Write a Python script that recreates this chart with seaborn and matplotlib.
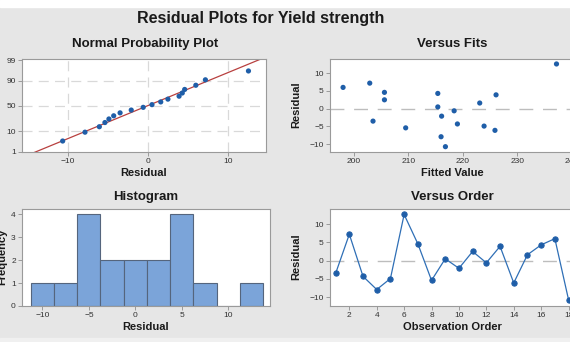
import numpy as np
import pandas as pd
import matplotlib
matplotlib.use("Agg")
import matplotlib.pyplot as plt
import seaborn as sns
from statistics import NormalDist

# ---- data ----
observation = list(range(1, 19))
residuals = [-3.5, 7.2, -4.3, -7.9, -4.9, 12.6, 4.6, -5.4, 0.5,
             -2.1, 2.5, -0.6, 3.9, -6.1, 1.6, 4.3, 6.0, -10.7]
fitted = [203.5, 202.9, 219.0, 216.0, 223.9, 237.2, 205.6, 209.5, 215.4,
          216.1, 205.6, 218.4, 226.1, 225.9, 223.1, 215.4, 198.0, 216.8]
prob_ticks = [1, 10, 50, 90, 99]
hist_edges = [-11.25, -8.75, -6.25, -3.75, -1.25, 1.25, 3.75, 6.25, 8.75, 11.25, 13.75]

df = pd.DataFrame({"obs": observation, "resid": residuals, "fit": fitted})

sns.set_theme(style="white")
plt.rcParams["font.family"] = ["Liberation Sans", "DejaVu Sans"]

BG = "#e6e6e6"
PT = "#1f5ea8"
SPINE = "#9a9a9a"
W, H = 570, 342
fig = plt.figure(figsize=(W / 100, H / 100), dpi=100, facecolor=BG)

# white strip at top
fig.patches.append(plt.Rectangle((0, 1 - 7 / H), 1, 7 / H, transform=fig.transFigure,
                                 color="white", zorder=0))
fig.patches.append(plt.Rectangle((0, 0), 1, 4 / H, transform=fig.transFigure,
                                 color="#f0f0f0", zorder=0))


def add_ax(l, r, t, b):
    ax = fig.add_axes([l / W, (H - b) / H, (r - l) / W, (b - t) / H])
    ax.set_facecolor("white")
    for s in ax.spines.values():
        s.set_color(SPINE)
        s.set_linewidth(0.8)
    ax.tick_params(axis="both", which="both", direction="out", length=3, width=0.7,
                   color=SPINE, labelsize=6, labelcolor="#333333", pad=1.5,
                   bottom=True, left=True)
    ax.set_xlabel("")
    ax.set_ylabel("")
    return ax


def ftext(x, y, s, size, rot=0):
    fig.text(x / W, (H - y) / H, s, ha="center", va="center", fontsize=size,
             fontweight="bold", rotation=rot, color="#1a1a1a")


ftext(261, 19, "Residual Plots for Yield strength", 11.5)

# ---- Normal probability plot ----
ax1 = add_ax(22, 266, 59, 152)
n = len(residuals)
sorted_r = np.sort(residuals)
nd = NormalDist()
zpos = [nd.inv_cdf((i - 0.3) / (n + 0.4)) for i in range(1, n + 1)]
mu, sd = np.mean(residuals), np.std(residuals, ddof=1)
ax1.set_xlim(-15.8, 14.8)
ax1.set_ylim(-2.33, 2.38)
for xv in [-10, 0, 10]:
    ax1.axvline(xv, color="#d9d9d9", lw=0.9, ls=(0, (8, 5)), zorder=0)
for p in [10, 50, 90]:
    ax1.axhline(nd.inv_cdf(p / 100), color="#d9d9d9", lw=0.9, ls=(0, (8, 5)), zorder=0)
xl = np.array([-16, 16])
ax1.plot(xl, (xl - mu) / sd, color="#b8403f", lw=0.9, zorder=2)
sns.scatterplot(x=sorted_r, y=zpos, ax=ax1, color=PT, s=14, edgecolor="none", zorder=3)
ax1.set_yticks([nd.inv_cdf(p / 100) for p in prob_ticks])
ax1.set_yticklabels([str(p) for p in prob_ticks])
ax1.set_xticks([-10, 0, 10])
ftext(145, 44, "Normal Probability Plot", 9.5)
ftext(144, 173, "Residual", 8)

# ---- Versus fits ----
ax2 = add_ax(330, 575, 59, 152)
ax2.set_xlim(195.6, 240.6)
ax2.set_ylim(-12.2, 14.0)
ax2.axhline(0, color="#bdbdbd", lw=1.0, ls=(0, (10, 7)), zorder=1)
sns.scatterplot(data=df, x="fit", y="resid", ax=ax2, color=PT, s=14, edgecolor="none", zorder=3)
ax2.set_xlabel("")
ax2.set_ylabel("")
ax2.set_xticks([200, 210, 220, 230, 240])
ax2.set_yticks([-10, -5, 0, 5, 10])
ftext(452, 44, "Versus Fits", 9.5)
ftext(452, 173, "Fitted Value", 8)
ftext(296, 105, "Residual", 8, rot=90)

# ---- Histogram ----
ax3 = add_ax(22, 270, 209, 306)
sns.histplot(x=residuals, bins=hist_edges, ax=ax3, color="#7ba4d9", alpha=1,
             edgecolor="#55657d", linewidth=0.8)
ax3.set_xlim(-12.2, 14.5)
ax3.set_ylim(0, 4.23)
ax3.set_xlabel("")
ax3.set_ylabel("")
ax3.set_xticks([-10, -5, 0, 5, 10])
ax3.set_yticks([0, 1, 2, 3, 4])
ftext(146, 197, "Histogram", 9.5)
ftext(146, 327, "Residual", 8)
ftext(2, 257, "Frequency", 8, rot=90)

# ---- Versus order ----
ax4 = add_ax(330, 575, 209, 306)
ax4.set_xlim(0.59, 18.47)
ax4.set_ylim(-12.4, 14.1)
ax4.axhline(0, color="#bdbdbd", lw=1.0, ls=(0, (10, 7)), zorder=1)
sns.lineplot(data=df, x="obs", y="resid", ax=ax4, color="#2f6fb6", lw=0.9,
             marker="o", markersize=3.8, markerfacecolor=PT, markeredgecolor=PT, zorder=3)
ax4.set_xlabel("")
ax4.set_ylabel("")
ax4.set_xticks(list(range(2, 19, 2)))
ax4.set_yticks([-10, -5, 0, 5, 10])
ftext(452, 197, "Versus Order", 9.5)
ftext(452, 327, "Observation Order", 8)
ftext(296, 257, "Residual", 8, rot=90)

fig.savefig("out.png", dpi=100, facecolor=BG)
